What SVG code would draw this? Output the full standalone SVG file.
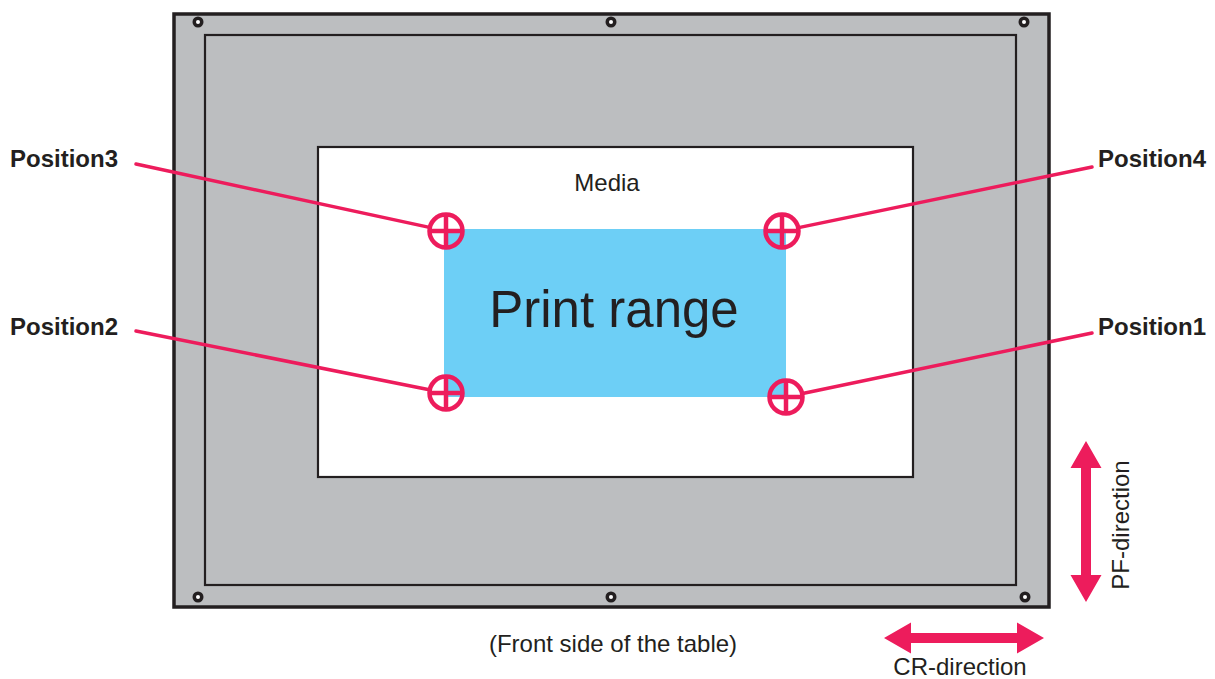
<svg xmlns="http://www.w3.org/2000/svg" width="1215" height="679" viewBox="0 0 1215 679">
<style>
text{font-family:"Liberation Sans",Arial,sans-serif;fill:#231f20}
.lbl{font-weight:bold;font-size:24px}
.reg{font-size:24px}
.frame{stroke:#231f20;fill:#bcbec0}
.screw{fill:#231f20}
.hole{fill:#ffffff}
.lead{stroke:#ed1c5c;stroke-width:3.5;fill:none;stroke-linecap:round}
.mark{stroke:#ed1c5c;stroke-width:4.5;fill:none}
.arrow{fill:#ed1c5c}
</style>
<rect width="1215" height="679" fill="#ffffff"/>
<g id="table">
<rect class="frame" x="174" y="14" width="875" height="593" stroke-width="3.5"/>
<rect x="205" y="35" width="811" height="550" fill="none" stroke="#231f20" stroke-width="2.2"/>
<g id="screws">
<circle class="screw" cx="198" cy="22" r="5.5"/><circle class="hole" cx="198" cy="22" r="2"/>
<circle class="screw" cx="611" cy="22" r="5.5"/><circle class="hole" cx="611" cy="22" r="2"/>
<circle class="screw" cx="1024" cy="22" r="5.5"/><circle class="hole" cx="1024" cy="22" r="2"/>
<circle class="screw" cx="198" cy="597" r="5.5"/><circle class="hole" cx="198" cy="597" r="2"/>
<circle class="screw" cx="611" cy="597" r="5.5"/><circle class="hole" cx="611" cy="597" r="2"/>
<circle class="screw" cx="1025" cy="597" r="5.5"/><circle class="hole" cx="1025" cy="597" r="2"/>
</g>
</g>
<g id="media">
<rect x="318" y="147" width="595" height="330" fill="#ffffff" stroke="#231f20" stroke-width="2.2"/>
<text class="reg" x="607" y="191" text-anchor="middle">Media</text>
</g>
<g id="print-range">
<rect x="444" y="229" width="342" height="168" fill="#6dcff6"/>
<text x="614" y="327" text-anchor="middle" font-size="51">Print range</text>
</g>
<g id="connectors">
<line class="lead" x1="136" y1="164" x2="429.4" y2="227.4"/>
<line class="lead" x1="1092" y1="167" x2="798.6" y2="227.6"/>
<line class="lead" x1="136" y1="331" x2="429.3" y2="389.7"/>
<line class="lead" x1="1092" y1="333" x2="802.6" y2="393.5"/>
</g>
<g id="position3">
<text class="lbl" x="10" y="167">Position3</text>
<circle class="mark" cx="446" cy="231" r="16.5"/>
<path class="mark" d="M429.5 231H462.5M446 214.5V247.5"/>
</g>
<g id="position4">
<text class="lbl" x="1098" y="167">Position4</text>
<circle class="mark" cx="782" cy="231" r="16.5"/>
<path class="mark" d="M765.5 231H798.5M782 214.5V247.5"/>
</g>
<g id="position2">
<text class="lbl" x="10" y="335">Position2</text>
<circle class="mark" cx="446" cy="393" r="16.5"/>
<path class="mark" d="M429.5 393H462.5M446 376.5V409.5"/>
</g>
<g id="position1">
<text class="lbl" x="1098" y="335">Position1</text>
<circle class="mark" cx="786" cy="397" r="16.5"/>
<path class="mark" d="M769.5 397H802.5M786 380.5V413.5"/>
</g>
<g id="pf-direction">
<polygon class="arrow" points="1086,441 1101.5,468 1091,468 1091,575 1101.5,575 1086,602 1070.5,575 1081,575 1081,468 1070.5,468"/>
<text class="reg" transform="translate(1129,525) rotate(-90)" text-anchor="middle">PF-direction</text>
</g>
<g id="cr-direction">
<polygon class="arrow" points="884,638 911,622.5 911,633 1017,633 1017,622.5 1044,638 1017,653.5 1017,643 911,643 911,653.5"/>
<text class="reg" x="960" y="675" text-anchor="middle">CR-direction</text>
</g>
<g id="front-label">
<text class="reg" x="613" y="652" text-anchor="middle">(Front side of the table)</text>
</g>
</svg>
